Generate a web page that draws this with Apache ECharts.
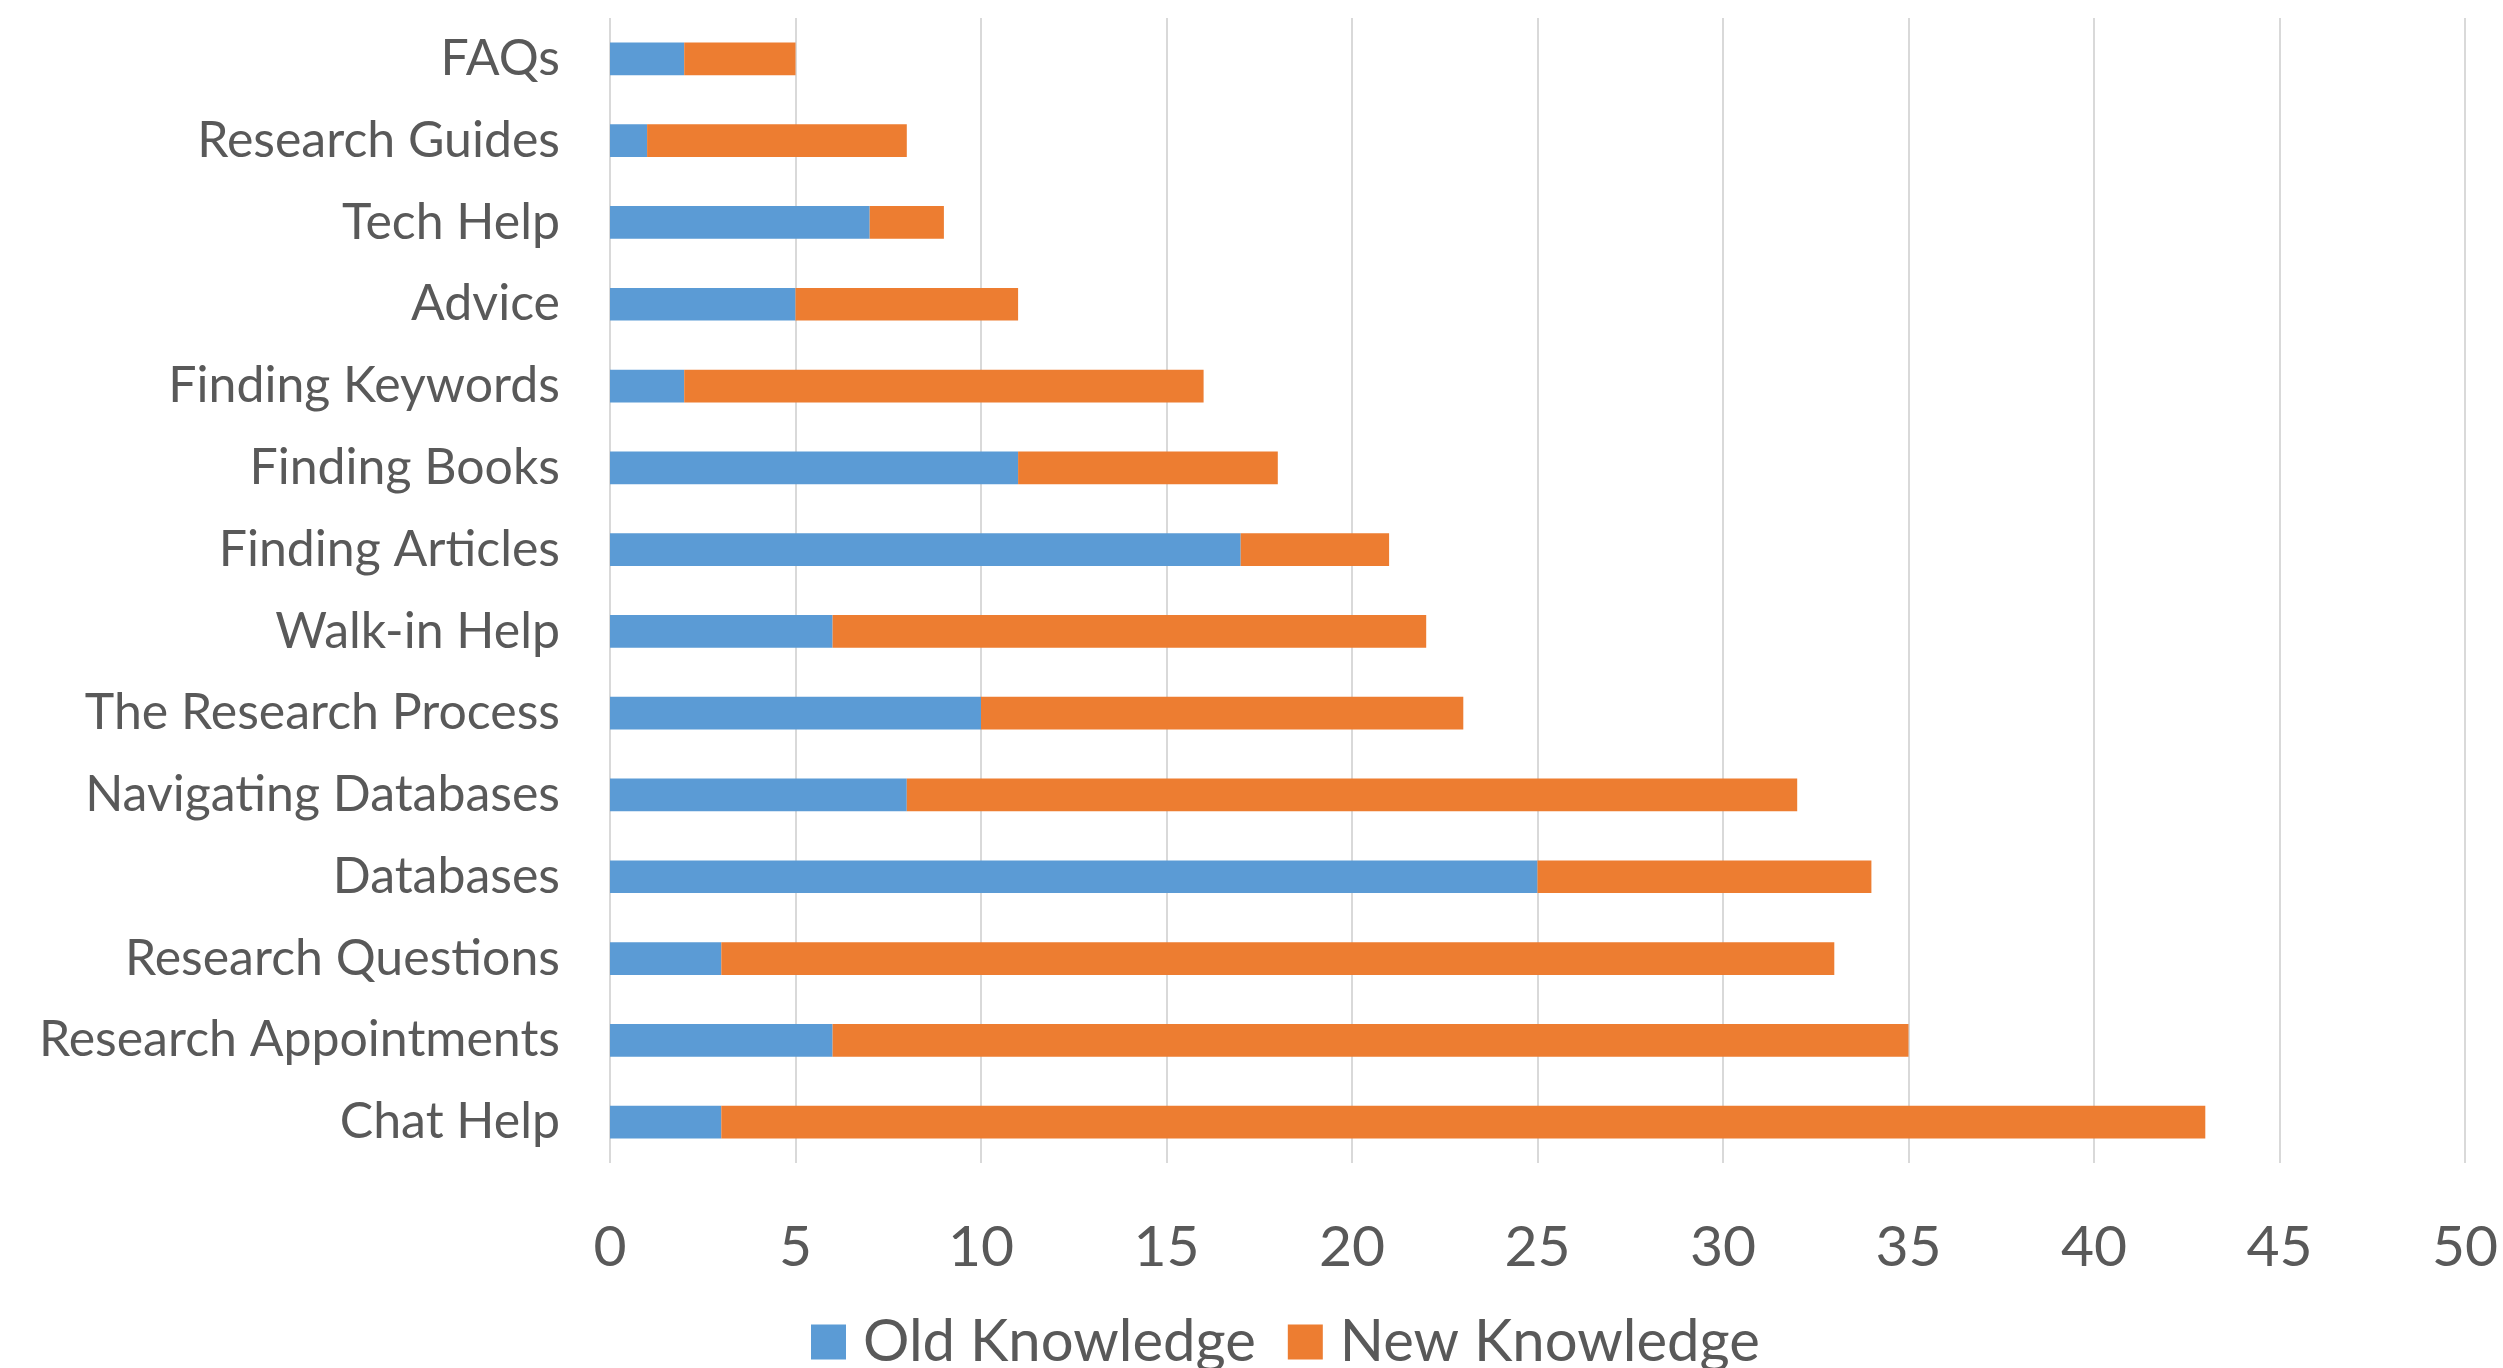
<!DOCTYPE html>
<html>
<head>
<meta charset="utf-8">
<script src="https://cdn.jsdelivr.net/npm/echarts@6/dist/echarts.min.js"></script>
<style>
html,body{margin:0;padding:0;background:#fff;}
#chart{width:2503px;height:1368px;}
</style>
</head>
<body>
<div id="chart"></div>
<script>
// Categories listed from bottom to top
const categories = ["Chat Help","Research Appointments","Research Questions","Databases","Navigating Databases","The Research Process","Walk-in Help","Finding Articles","Finding Books","Finding Keywords","Advice","Tech Help","Research Guides","FAQs"];
const oldKnowledge = [3,6,3,25,8,10,6,17,11,2,5,7,1,2];
const newKnowledge = [40,29,30,9,24,13,16,4,7,14,6,2,7,3];
const seriesNames = ["Old Knowledge","New Knowledge"];
const xTicks = {min:0, max:50, interval:5};

const FONT = "Lato";
const TXT = "#595959";
const chart = echarts.init(document.getElementById('chart'));
chart.setOption({
  animation:false,
  backgroundColor:'#ffffff',
  textStyle:{fontFamily:FONT},
  grid:{left:610, right:38, top:18, bottom:205, containLabel:false},
  legend:{
    data:seriesNames,
    left:806, top:1308,
    itemWidth:35, itemHeight:35, itemGap:32,
    icon:'rect',
    textStyle:{fontFamily:FONT, fontSize:58, color:TXT, padding:[0,0,0,12]}
  },
  xAxis:{
    type:'value', min:xTicks.min, max:xTicks.max, interval:xTicks.interval,
    axisLine:{show:false}, axisTick:{show:false},
    splitLine:{show:true, lineStyle:{color:'#d9d9d9', width:2}},
    axisLabel:{fontFamily:FONT, fontSize:57, color:TXT, margin:56}
  },
  yAxis:{
    type:'category', data:categories,
    axisLine:{show:false}, axisTick:{show:false},
    axisLabel:{fontFamily:FONT, fontSize:50, color:TXT, margin:50}
  },
  series:[
    {name:seriesNames[0], type:'bar', stack:'k', data:oldKnowledge, barCategoryGap:'60%', itemStyle:{color:'#5B9BD5'}},
    {name:seriesNames[1], type:'bar', stack:'k', data:newKnowledge, barCategoryGap:'60%', itemStyle:{color:'#ED7D31'}}
  ]
});
</script>
</body>
</html>
